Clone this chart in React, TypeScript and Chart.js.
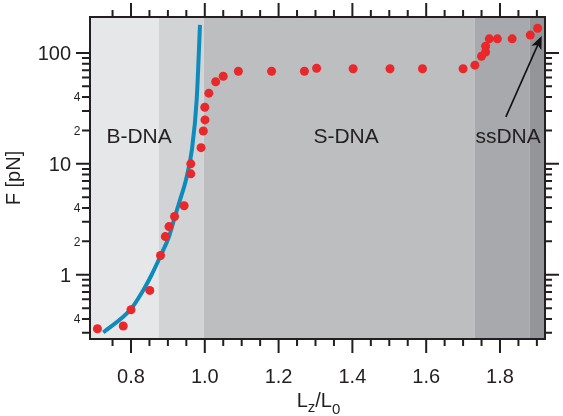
import React, { useEffect, useRef } from "react";
import { Chart, registerables } from "chart.js";

Chart.register(...registerables);

// ---- axis ranges ----
const X_MIN = 0.6889;
const X_MAX = 1.922;
const Y_MIN = 0.2634;
const Y_MAX = 211;

// ---- measured data points (L_z/L_0, F in pN) ----
const pointX = [
  0.709, 0.779, 0.8, 0.851, 0.88, 0.893, 0.903, 0.918, 0.944, 0.962, 0.962,
  0.99, 0.996, 1.0005, 1.0, 1.011, 1.0295, 1.05, 1.091, 1.181, 1.27, 1.303,
  1.402, 1.502, 1.59, 1.7, 1.732, 1.75, 1.761, 1.761, 1.771, 1.793, 1.833,
  1.882, 1.902,
];
const pointF = [
  0.326, 0.345, 0.484, 0.722, 1.49, 2.21, 2.72, 3.35, 4.19, 10.0, 8.13, 14.0,
  19.8, 24.9, 32.4, 43.4, 55, 61.7, 68.4, 68.4, 68.4, 72.8, 72, 72, 72, 72,
  77.6, 93.3, 102, 115, 134, 134, 134, 145, 167,
];

// ---- model curve ----
const curveX = [0.725, 0.8, 0.833, 0.856, 0.8805, 0.903, 0.919, 0.933, 0.949, 0.965, 0.978, 0.987];
const curveF = [0.302, 0.491, 0.722, 1.0, 1.49, 2.21, 3.35, 4.74, 7.17, 13.4, 37.7, 179];

// ---- shaded regions ----
const regionStart = [0.6889, 0.875, 0.997, 1.732, 1.881];
const regionEnd = [0.875, 0.997, 1.732, 1.881, 1.922];
const regionColor = ["#e6e7e8", "#d1d3d4", "#bcbec0", "#a7a9ac", "#939598"];

// ---- region labels ----
const regionLabels = ["B-DNA", "S-DNA", "ssDNA"];
const regionLabelX = [0.822, 1.383, 1.822];
const regionLabelF = [15.5, 15.5, 15.5];

// ---- arrow ----
const arrowFromX = 1.816;
const arrowFromF = 26.5;
const arrowToX = 1.913;
const arrowToF = 142;

// ---- ticks ----
const xMajorTicks = [0.8, 1.0, 1.2, 1.4, 1.6, 1.8];
const xTickLabels = ["0.8", "1.0", "1.2", "1.4", "1.6", "1.8"];
const xMinorTicks = [0.75, 0.85, 0.9, 0.95, 1.05, 1.1, 1.15, 1.25, 1.3, 1.35, 1.45, 1.5, 1.55, 1.65, 1.7, 1.75, 1.85, 1.9];
const yMajorTicks = [1, 10, 100];
const yMajorLabels = ["1", "10", "100"];
const yMinorTicks = [0.3, 0.4, 0.5, 0.6, 0.7, 0.8, 0.9, 2, 3, 4, 5, 6, 7, 8, 9, 20, 30, 40, 50, 60, 70, 80, 90];
const yMinorLabelValues = [0.4, 2, 4, 20, 40];
const yMinorLabels = ["4", "2", "4", "2", "4"];

const FONT = '"Liberation Sans", Arial, Helvetica, sans-serif';
const INK = "#231f20";

const figurePlugin = {
  id: "figure",
  beforeDatasetsDraw(chart: any) {
    const { ctx, chartArea, scales } = chart;
    const xs = scales.x;
    ctx.save();
    for (let i = 0; i < regionStart.length; i++) {
      const a = xs.getPixelForValue(regionStart[i]);
      const b = xs.getPixelForValue(regionEnd[i]);
      ctx.fillStyle = regionColor[i];
      ctx.fillRect(a, chartArea.top, b - a, chartArea.bottom - chartArea.top);
    }
    ctx.restore();
  },
  afterDatasetsDraw(chart: any) {
    const { ctx, chartArea, scales } = chart;
    const xs = scales.x;
    const ys = scales.y;
    const { left, right, top, bottom } = chartArea;
    ctx.save();

    // region labels
    ctx.fillStyle = INK;
    ctx.font = `21px ${FONT}`;
    ctx.textAlign = "center";
    ctx.textBaseline = "alphabetic";
    for (let i = 0; i < regionLabels.length; i++) {
      ctx.fillText(regionLabels[i], xs.getPixelForValue(regionLabelX[i]), ys.getPixelForValue(regionLabelF[i]));
    }

    // arrow
    const x1 = xs.getPixelForValue(arrowFromX);
    const y1 = ys.getPixelForValue(arrowFromF);
    const x2 = xs.getPixelForValue(arrowToX);
    const y2 = ys.getPixelForValue(arrowToF);
    const ang = Math.atan2(y2 - y1, x2 - x1);
    const headLen = 13;
    const headW = 5.5;
    ctx.strokeStyle = "#111";
    ctx.fillStyle = "#111";
    ctx.lineWidth = 1.6;
    ctx.beginPath();
    ctx.moveTo(x1, y1);
    ctx.lineTo(x2 - Math.cos(ang) * headLen * 0.7, y2 - Math.sin(ang) * headLen * 0.7);
    ctx.stroke();
    const bx = x2 - Math.cos(ang) * headLen;
    const by = y2 - Math.sin(ang) * headLen;
    const nx = -Math.sin(ang);
    const ny = Math.cos(ang);
    ctx.beginPath();
    ctx.moveTo(x2, y2);
    ctx.lineTo(bx + nx * headW, by + ny * headW);
    ctx.lineTo(x2 - Math.cos(ang) * headLen * 0.75, y2 - Math.sin(ang) * headLen * 0.75);
    ctx.lineTo(bx - nx * headW, by - ny * headW);
    ctx.closePath();
    ctx.fill();

    // frame
    ctx.strokeStyle = INK;
    ctx.lineWidth = 2;
    ctx.strokeRect(left, top, right - left, bottom - top);

    // ticks
    ctx.lineCap = "butt";
    ctx.beginPath();
    for (const v of xMajorTicks) {
      const p = xs.getPixelForValue(v);
      ctx.moveTo(p, bottom); ctx.lineTo(p, bottom + 14);
      ctx.moveTo(p, top); ctx.lineTo(p, top - 14);
    }
    for (const v of xMinorTicks) {
      const p = xs.getPixelForValue(v);
      ctx.moveTo(p, bottom); ctx.lineTo(p, bottom + 7);
      ctx.moveTo(p, top); ctx.lineTo(p, top - 7);
    }
    for (const v of yMajorTicks) {
      const p = ys.getPixelForValue(v);
      ctx.moveTo(left, p); ctx.lineTo(left - 14, p);
      ctx.moveTo(right, p); ctx.lineTo(right + 14, p);
    }
    for (const v of yMinorTicks) {
      const p = ys.getPixelForValue(v);
      ctx.moveTo(left, p); ctx.lineTo(left - 8, p);
      ctx.moveTo(right, p); ctx.lineTo(right + 7, p);
    }
    ctx.stroke();

    // tick labels
    ctx.fillStyle = INK;
    ctx.font = `20px ${FONT}`;
    ctx.textAlign = "center";
    ctx.textBaseline = "alphabetic";
    xMajorTicks.forEach((v, i) => {
      ctx.fillText(xTickLabels[i], xs.getPixelForValue(v), bottom + 44);
    });
    ctx.textAlign = "right";
    yMajorTicks.forEach((v, i) => {
      ctx.fillText(yMajorLabels[i], left - 19, ys.getPixelForValue(v) + 7.2);
    });
    ctx.font = `12px ${FONT}`;
    yMinorLabelValues.forEach((v, i) => {
      ctx.fillText(yMinorLabels[i], left - 9.5, ys.getPixelForValue(v) + 4.3);
    });

    // y title
    ctx.save();
    ctx.font = `20px ${FONT}`;
    ctx.textAlign = "center";
    ctx.textBaseline = "alphabetic";
    ctx.translate(19.5, (top + bottom) / 2);
    ctx.rotate(-Math.PI / 2);
    ctx.fillText("F [pN]", 0, 0);
    ctx.restore();

    // x title: L_z / L_0
    const parts: [string, number, number][] = [
      ["L", 20, 0],
      ["z", 15, 5],
      ["/", 20, 0],
      ["L", 20, 0],
      ["0", 15, 7],
    ];
    ctx.textAlign = "left";
    let total = 0;
    for (const [t, s] of parts) {
      ctx.font = `${s}px ${FONT}`;
      total += ctx.measureText(t).width;
    }
    let cx = (left + right) / 2 + 1 - total / 2;
    const base = bottom + 67.5;
    for (const [t, s, dy] of parts) {
      ctx.font = `${s}px ${FONT}`;
      ctx.fillText(t, cx, base + dy);
      cx += ctx.measureText(t).width;
    }

    ctx.restore();
  },
};

export default function App() {
  const ref = useRef<HTMLCanvasElement | null>(null);
  useEffect(() => {
    if (!ref.current) return;
    const chart = new Chart(ref.current, {
      type: "scatter",
      data: {
        datasets: [
          {
            label: "data",
            data: pointX.map((x, i) => ({ x, y: pointF[i] })),
            backgroundColor: "#e8282b",
            borderColor: "#e8282b",
            pointRadius: 4.5,
            pointBorderWidth: 0,
            showLine: false,
            order: 0,
          },
          {
            label: "model",
            data: curveX.map((x, i) => ({ x, y: curveF[i] })),
            borderColor: "#0d8bbd",
            borderWidth: 4,
            pointRadius: 0,
            showLine: true,
            cubicInterpolationMode: "monotone",
            fill: false,
            order: 1,
          } as any,
        ],
      },
      options: {
        responsive: false,
        animation: false,
        events: [],
        layout: { padding: { left: 90, right: 18, top: 17, bottom: 77 } },
        plugins: { legend: { display: false }, tooltip: { enabled: false } },
        scales: {
          x: { type: "linear", min: X_MIN, max: X_MAX, display: false },
          y: { type: "logarithmic", min: Y_MIN, max: Y_MAX, display: false },
        },
      },
      plugins: [figurePlugin],
    });
    return () => chart.destroy();
  }, []);
  return (
    <div style={{ position: "absolute", left: 0, top: 0, width: 563, height: 416, background: "#fff" }}>
      <canvas ref={ref} width={563} height={416} style={{ display: "block" }} />
    </div>
  );
}
